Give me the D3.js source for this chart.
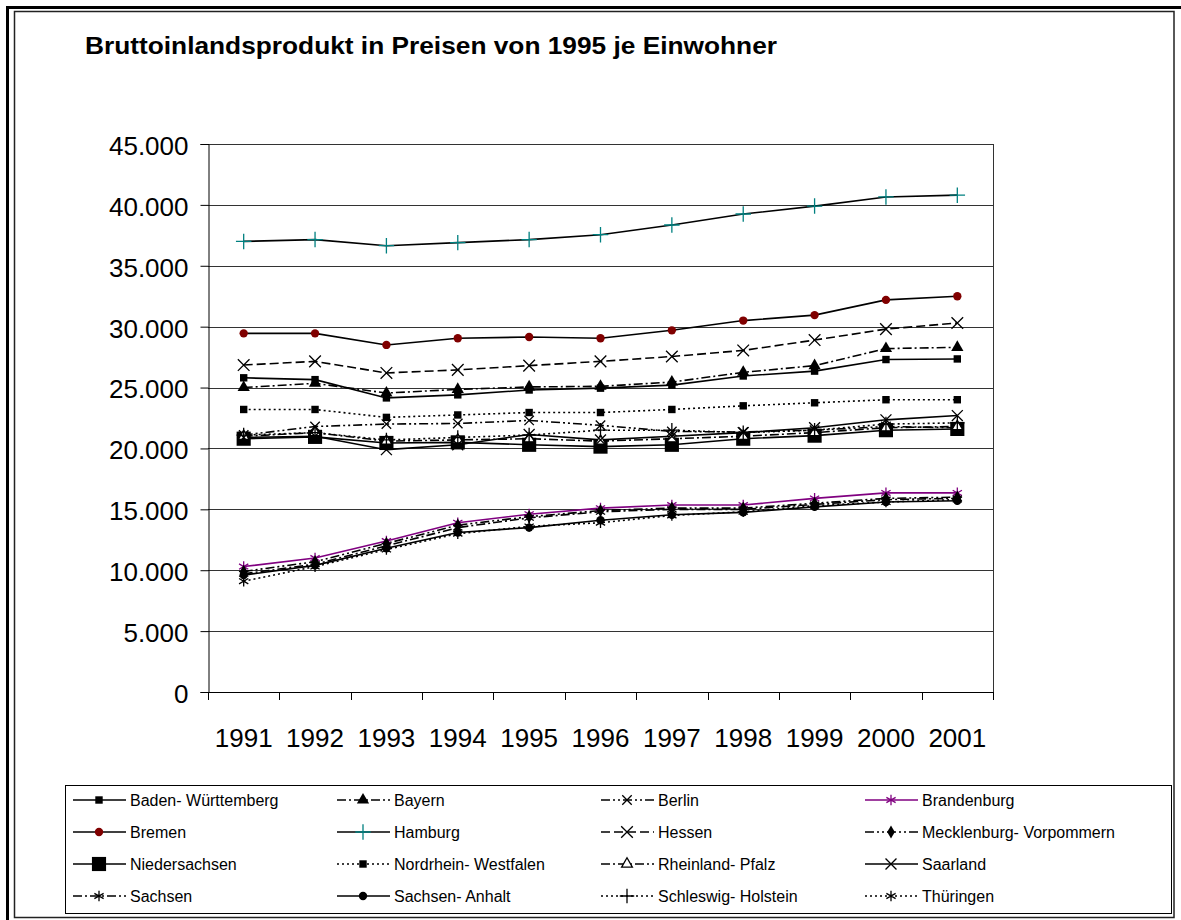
<!DOCTYPE html>
<html>
<head>
<meta charset="utf-8">
<script src="https://cdn.jsdelivr.net/npm/d3@7"></script>
<style>
  body { margin: 0; background: #fff; }
  text { font-family: "Liberation Sans", Arial, sans-serif; }
</style>
</head>
<body>
<div class="chart"></div>
<script>
// BIP in Preisen von 1995 je Einwohner
const years = ['1991', '1992', '1993', '1994', '1995', '1996', '1997', '1998', '1999', '2000', '2001'];
const yTicks = [0, 5000, 10000, 15000, 20000, 25000, 30000, 35000, 40000, 45000];

const badenWuerttemberg = [25800, 25650, 24150, 24400, 24800, 24950, 25200, 25950, 26350, 27300, 27350];
const bayern = [25000, 25350, 24550, 24850, 25050, 25100, 25450, 26250, 26800, 28200, 28300];
const berlin = [21100, 21800, 22000, 22050, 22300, 21900, 21400, 21350, 21500, 21800, 21700];
const brandenburg = [10300, 11000, 12400, 13900, 14600, 15100, 15350, 15350, 15900, 16350, 16350];
const bremen = [29450, 29450, 28500, 29050, 29150, 29050, 29700, 30500, 30950, 32200, 32500];
const hamburg = [37000, 37150, 36650, 36900, 37150, 37550, 38350, 39250, 39900, 40650, 40800];
const hessen = [26850, 27150, 26200, 26450, 26800, 27150, 27550, 28050, 28900, 29800, 30300];
const mecklenburg = [9900, 10700, 12200, 13700, 14400, 14900, 15100, 15100, 15500, 15900, 16000];
const niedersachsen = [20800, 20950, 20450, 20500, 20300, 20150, 20300, 20800, 21050, 21500, 21600];
const nrw = [23200, 23200, 22550, 22750, 22950, 22950, 23200, 23500, 23750, 24000, 24000];
const rheinlandPfalz = [21000, 21300, 20600, 20700, 20800, 20600, 20800, 21000, 21300, 21700, 21800];
const saarland = [20900, 21000, 19900, 20300, 21150, 20700, 21000, 21300, 21700, 22350, 22700];
const sachsen = [9700, 10500, 12000, 13500, 14300, 14800, 15000, 15000, 15400, 15800, 15900];
const sachsenAnhalt = [9600, 10400, 11800, 13100, 13500, 14100, 14550, 14750, 15200, 15600, 15700];
const schleswigHolstein = [21100, 21300, 20700, 20900, 21100, 21500, 21500, 21300, 21500, 22000, 22100];
const thueringen = [9100, 10300, 11700, 13000, 13600, 13900, 14500, 14800, 15300, 15600, 15800];

const seriesNames = ['Baden- Württemberg', 'Bayern', 'Berlin', 'Brandenburg',
  'Bremen', 'Hamburg', 'Hessen', 'Mecklenburg- Vorpommern',
  'Niedersachsen', 'Nordrhein- Westfalen', 'Rheinland- Pfalz', 'Saarland',
  'Sachsen', 'Sachsen- Anhalt', 'Schleswig- Holstein', 'Thüringen'];
const seriesValues = [badenWuerttemberg, bayern, berlin, brandenburg,
  bremen, hamburg, hessen, mecklenburg,
  niedersachsen, nrw, rheinlandPfalz, saarland,
  sachsen, sachsenAnhalt, schleswigHolstein, thueringen];

// Linien- und Markerstil je Reihe
const dashDot = '9,3,2,3', dashDotDot = '9,3,2,3,2,3', dashed = '9,4', dotted = '2,3';
const styles = [
  {line: '#000', dash: null, sym: d3.symbolSquare, size: 55, fill: '#000', stroke: 'none'},
  {line: '#000', dash: dashDot, sym: d3.symbolTriangle, size: 65, fill: '#000', stroke: 'none'},
  {line: '#000', dash: dashDotDot, sym: d3.symbolX, size: 60, fill: 'none', stroke: '#000'},
  {line: '#800080', dash: null, sym: d3.symbolAsterisk, size: 80, fill: 'none', stroke: '#800080'},
  {line: '#000', dash: null, sym: d3.symbolCircle, size: 55, fill: '#800000', stroke: 'none'},
  {line: '#000', dash: null, sym: d3.symbolPlus, size: 80, fill: 'none', stroke: '#008080'},
  {line: '#000', dash: dashed, sym: d3.symbolX, size: 90, fill: 'none', stroke: '#000'},
  {line: '#000', dash: dashDotDot, sym: d3.symbolDiamond, size: 50, fill: '#000', stroke: 'none'},
  {line: '#000', dash: null, sym: d3.symbolSquare, size: 200, fill: '#000', stroke: 'none'},
  {line: '#000', dash: dotted, sym: d3.symbolSquare, size: 55, fill: '#000', stroke: 'none'},
  {line: '#000', dash: dashDot, sym: d3.symbolTriangle, size: 50, fill: '#fff', stroke: '#000'},
  {line: '#000', dash: null, sym: d3.symbolX, size: 80, fill: 'none', stroke: '#000'},
  {line: '#000', dash: dashDot, sym: d3.symbolAsterisk, size: 80, fill: 'none', stroke: '#000'},
  {line: '#000', dash: null, sym: d3.symbolCircle, size: 55, fill: '#000', stroke: 'none'},
  {line: '#000', dash: dotted, sym: d3.symbolPlus, size: 70, fill: 'none', stroke: '#000'},
  {line: '#000', dash: dotted, sym: d3.symbolAsterisk, size: 80, fill: 'none', stroke: '#000'}
];

const width = 1181, height = 920;
const plot = {left: 208, right: 993, top: 144, bottom: 692};

const de = d3.formatLocale({decimal: ',', thousands: '.', grouping: [3], currency: ['', ' €']});
const fmt = de.format(',');

const svg = d3.select('.chart').append('svg').attr('width', width).attr('height', height);

// Rahmen
svg.append('rect').attr('x', 7.5).attr('y', 7.5).attr('width', 1190).attr('height', 930)
  .attr('fill', 'none').attr('stroke', '#000').attr('stroke-width', 3);
svg.append('rect').attr('x', 14.5).attr('y', 11.5).attr('width', 1159.5).attr('height', 906)
  .attr('fill', 'none').attr('stroke', '#222').attr('stroke-width', 1.5);

svg.append('text')
  .attr('x', 85).attr('y', 54)
  .attr('font-size', 24).attr('font-weight', 'bold')
  .attr('textLength', 692).attr('lengthAdjust', 'spacingAndGlyphs')
  .text('Bruttoinlandsprodukt in Preisen von 1995 je Einwohner');

const xScale = d3.scaleBand().domain(years).range([plot.left, plot.right]);
const yScale = d3.scaleLinear().domain([0, 45000]).range([plot.bottom, plot.top]);
const xc = d => xScale(d) + xScale.bandwidth() / 2;

// Gitterlinien
svg.append('g').selectAll('line')
  .data(yTicks)
  .join('line')
  .attr('x1', plot.left).attr('x2', plot.right)
  .attr('y1', d => Math.round(yScale(d)) + 0.5).attr('y2', d => Math.round(yScale(d)) + 0.5)
  .attr('stroke', '#333').attr('stroke-width', 1);

// rechte Begrenzung
svg.append('line')
  .attr('x1', plot.right + 0.5).attr('x2', plot.right + 0.5)
  .attr('y1', yScale(45000)).attr('y2', yScale(0))
  .attr('stroke', '#333');

const yAxis = d3.axisLeft(yScale).tickValues(yTicks).tickFormat(fmt).tickSize(8).tickPadding(12);
const gy = svg.append('g').attr('transform', 'translate(' + (plot.left + 0.5) + ',0)').call(yAxis);
gy.selectAll('text').attr('font-size', 26).attr('fill', '#000').attr('dy', '0.4em')
  .attr('font-family', '"Liberation Sans", Arial, sans-serif');
gy.selectAll('line, path').attr('stroke', '#000');

const xAxis = d3.axisBottom(xScale).tickSize(0).tickPadding(36);
const gx = svg.append('g').attr('transform', 'translate(0,' + (plot.bottom + 0.5) + ')').call(xAxis);
gx.select('.domain').remove();
gx.selectAll('text').attr('font-size', 26).attr('fill', '#000')
  .attr('font-family', '"Liberation Sans", Arial, sans-serif');

svg.append('line')
  .attr('x1', plot.left).attr('x2', plot.right)
  .attr('y1', plot.bottom + 0.5).attr('y2', plot.bottom + 0.5)
  .attr('stroke', '#000');
// Teilstriche zwischen den Jahren
svg.append('g').selectAll('line')
  .data(years.concat(['end']))
  .join('line')
  .attr('x1', d => d === 'end' ? plot.right + 0.5 : Math.round(xScale(d)) + 0.5)
  .attr('x2', d => d === 'end' ? plot.right + 0.5 : Math.round(xScale(d)) + 0.5)
  .attr('y1', plot.bottom).attr('y2', plot.bottom + 8)
  .attr('stroke', '#000');

const line = d3.line()
  .x((d, i) => xc(years[i]))
  .y(d => yScale(d));

const gLines = svg.append('g').attr('class', 'lines');
seriesValues.forEach(function (vals, k) {
  const st = styles[k];
  gLines.append('path')
    .attr('d', line(vals))
    .attr('fill', 'none')
    .attr('stroke', st.line)
    .attr('stroke-width', 1.6)
    .attr('stroke-dasharray', st.dash);
});

seriesValues.forEach(function (vals, k) {
  const st = styles[k];
  svg.append('g').selectAll('path')
    .data(vals)
    .join('path')
    .attr('d', d3.symbol().type(st.sym).size(st.size))
    .attr('transform', (d, i) => 'translate(' + xc(years[i]) + ',' + yScale(d) + ')')
    .attr('fill', st.fill)
    .attr('stroke', st.stroke)
    .attr('stroke-width', 1.3);
});

// Legende
const legend = {x: 65, y: 785, w: 1106, h: 128, colW: 264, rowH: 32};
svg.append('rect')
  .attr('x', legend.x + 0.5).attr('y', legend.y + 0.5)
  .attr('width', legend.w).attr('height', legend.h)
  .attr('fill', '#fff').attr('stroke', '#000');

const items = svg.append('g').selectAll('g')
  .data(seriesNames)
  .join('g')
  .attr('transform', (d, i) => 'translate(' + (legend.x + 8 + (i % 4) * legend.colW) + ',' +
    (legend.y + 15 + Math.floor(i / 4) * legend.rowH) + ')');

items.append('line')
  .attr('x1', 0).attr('x2', 53).attr('y1', 0).attr('y2', 0)
  .attr('stroke', (d, i) => styles[i].line)
  .attr('stroke-width', 1.3)
  .attr('stroke-dasharray', (d, i) => styles[i].dash);

items.append('path')
  .attr('d', (d, i) => d3.symbol().type(styles[i].sym).size(styles[i].size)())
  .attr('transform', 'translate(26,0)')
  .attr('fill', (d, i) => styles[i].fill)
  .attr('stroke', (d, i) => styles[i].stroke)
  .attr('stroke-width', 1.3);

items.append('text')
  .attr('x', 57).attr('y', 6)
  .attr('font-size', 16)
  .text(d => d);
</script>
</body>
</html>
